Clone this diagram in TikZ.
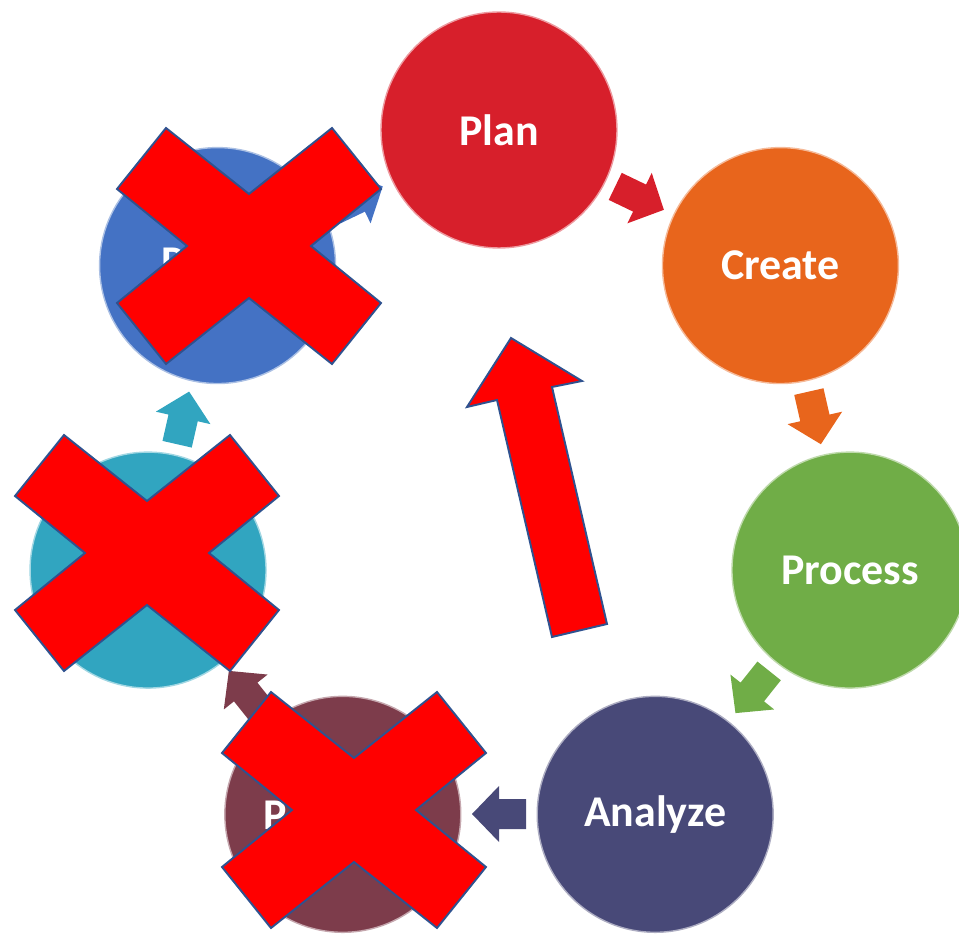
\documentclass[tikz,border=0pt]{standalone}
\usepackage{fontspec}
\setmainfont{Carlito}
\usepackage{tikz}

\definecolor{planred}{RGB}{215,31,43}
\definecolor{createorange}{RGB}{232,101,28}
\definecolor{processgreen}{RGB}{112,173,71}
\definecolor{analyzeblue}{RGB}{72,73,120}
\definecolor{fifthmaroon}{RGB}{125,60,75}
\definecolor{sixthteal}{RGB}{49,165,192}
\definecolor{seventhblue}{RGB}{68,114,196}
\definecolor{crossedge}{RGB}{47,82,143}

\begin{document}
\begin{tikzpicture}[
            x=0.02cm, y=0.02cm,
            main node/.style={circle,fill=#1,draw=white!55!#1,line width=0.8pt,minimum size=4.72cm,text=white,font=\fontsize{25}{30}\selectfont\bfseries},
            hidden label/.style={text=white,anchor=west,inner sep=0pt,font=\fontsize{25}{30}\selectfont\bfseries},
            cross mark/.style={fill=red,draw=crossedge,line width=1.1pt,line join=miter},
            ]
            \useasboundingbox (-499,-453) rectangle (460,490);

            \node[main node=planred] (plan) at (90:360) {Plan};
            \node[main node=createorange] (create) at ({90 - 360/7}:360) {Create};
            \node[main node=processgreen] (process) at ({90 - 360/7 * 2}:360) {Process};
            \node[main node=analyzeblue] (analyze) at ({90 - 360/7 * 3}:360) {Analyze};
            \node[main node=fifthmaroon] (fifth) at ({90 - 360/7 * 4}:360) {};
            \node[main node=sixthteal] (sixth) at ({90 - 360/7 * 5}:360) {};
            \node[main node=seventhblue] (seventh) at ({90 - 360/7 * 6}:360) {};

            \node[hidden label] (fifthtext) at (-236,-325) {P};
            \node[hidden label] (seventhtext) at (-338,228) {P};

            % block arrows between the circles
            \foreach \k/\col in {0/planred,1/createorange,2/processgreen,3/analyzeblue,4/fifthmaroon,5/sixthteal,6/seventhblue}
                \fill[\col, shift={({90 - 360/7 * (\k + 0.5)}:324)}, rotate={-360/7 * (\k + 0.5)}]
                    (-27,15) -- (0,15) -- (0,28) -- (27,0) -- (0,-28) -- (0,-15) -- (-27,-15) -- cycle;

            % crosses
            \foreach \cx/\cy in {-250/244, -352/-63, -145/-320}
                \draw[cross mark, shift={(\cx,\cy)}]
                    (-83,118) -- (0,52) -- (83,118) -- (132,57) -- (62,0) -- (132,-57) -- (83,-118)
                    -- (0,-52) -- (-83,-118) -- (-132,-57) -- (-62,0) -- (-132,57) -- cycle;

            \draw[cross mark] (53,-147) -- (-2,90) -- (-32,83) -- (12,152) -- (83,109) -- (53,103) -- (108,-134) -- cycle;
        \end{tikzpicture}
\end{document}
